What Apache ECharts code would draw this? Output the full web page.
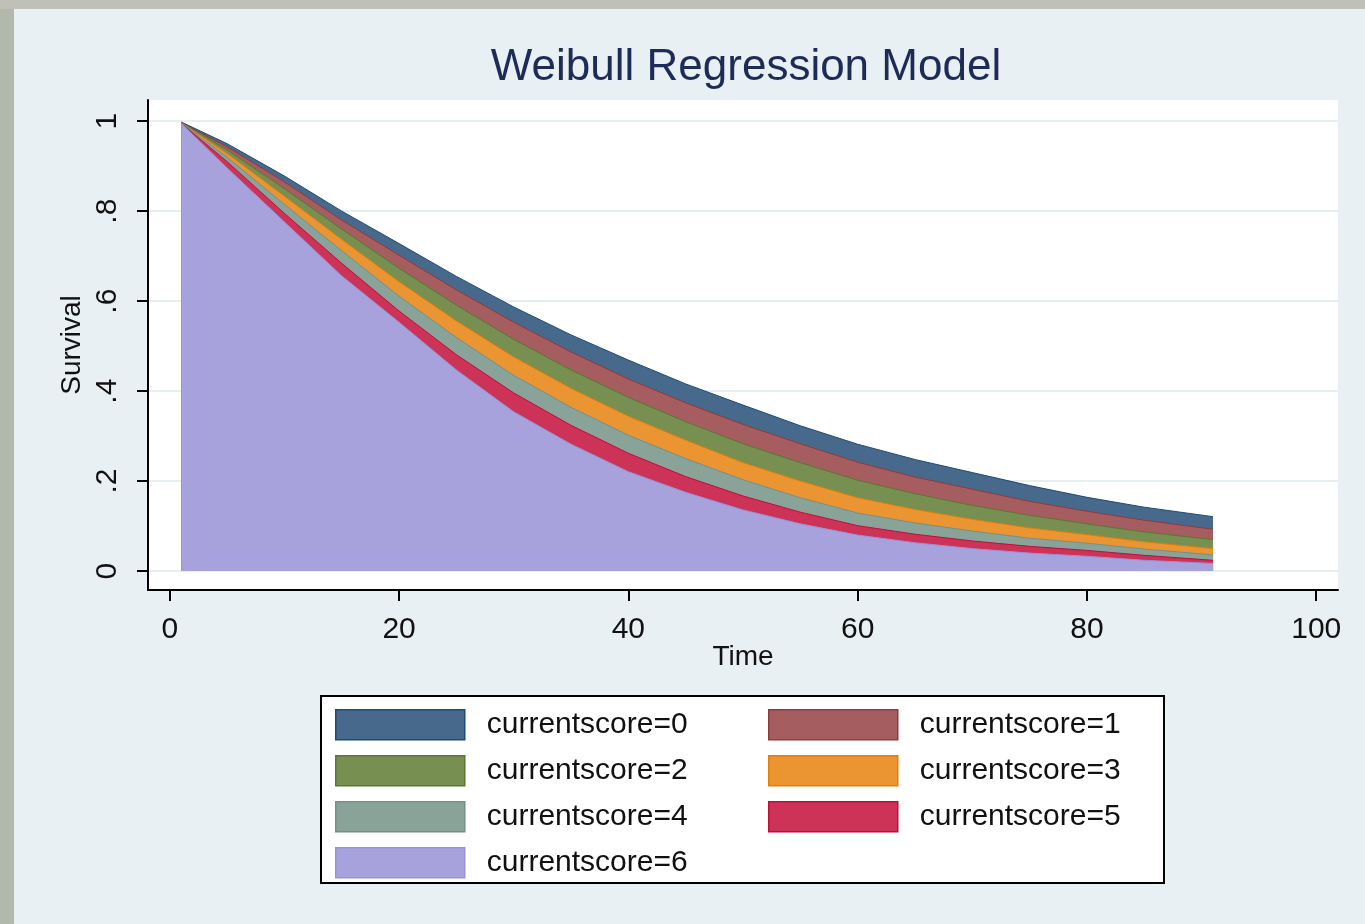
<!DOCTYPE html>
<html>
<head>
<meta charset="utf-8">
<style>
  html, body { margin: 0; padding: 0; background: #e8f0f3; }
  #chart { width: 1365px; height: 924px; }
</style>
<script src="https://cdn.jsdelivr.net/npm/echarts@6/dist/echarts.min.js"></script>
</head>
<body>
<div id="chart"></div>
<script>
// ---- data ----
const times = [1, 5, 10, 15, 20, 25, 30, 35, 40, 45, 50, 55, 60, 65, 70, 75, 80, 85, 91];
const score0 = [0.998, 0.950, 0.878, 0.800, 0.728, 0.655, 0.587, 0.525, 0.469, 0.416, 0.369, 0.323, 0.282, 0.248, 0.219, 0.190, 0.164, 0.142, 0.121];
const score1 = [0.997, 0.943, 0.865, 0.780, 0.702, 0.625, 0.553, 0.487, 0.427, 0.374, 0.326, 0.283, 0.242, 0.209, 0.182, 0.155, 0.133, 0.113, 0.093];
const score2 = [0.997, 0.936, 0.850, 0.760, 0.673, 0.591, 0.515, 0.447, 0.386, 0.332, 0.283, 0.241, 0.202, 0.172, 0.146, 0.124, 0.105, 0.087, 0.070];
const score3 = [0.996, 0.928, 0.833, 0.737, 0.643, 0.556, 0.476, 0.406, 0.344, 0.291, 0.241, 0.200, 0.163, 0.137, 0.115, 0.096, 0.081, 0.065, 0.050];
const score4 = [0.996, 0.920, 0.815, 0.712, 0.611, 0.519, 0.435, 0.364, 0.302, 0.250, 0.203, 0.163, 0.129, 0.107, 0.089, 0.073, 0.062, 0.049, 0.036];
const score5 = [0.995, 0.910, 0.795, 0.684, 0.578, 0.481, 0.396, 0.324, 0.262, 0.210, 0.167, 0.131, 0.101, 0.082, 0.067, 0.055, 0.046, 0.035, 0.024];
const score6 = [0.995, 0.896, 0.776, 0.656, 0.553, 0.447, 0.354, 0.282, 0.221, 0.175, 0.136, 0.105, 0.080, 0.063, 0.050, 0.040, 0.033, 0.024, 0.017];
const seriesNames = ['currentscore=0', 'currentscore=1', 'currentscore=2', 'currentscore=3', 'currentscore=4', 'currentscore=5', 'currentscore=6'];
const seriesValues = [score0, score1, score2, score3, score4, score5, score6];
const xTickValues = [0, 20, 40, 60, 80, 100];
const xTickLabels = ['0', '20', '40', '60', '80', '100'];
const yTickValues = [0, 0.2, 0.4, 0.6, 0.8, 1];
const yTickLabels = ['0', '.2', '.4', '.6', '.8', '1'];

// ---- styles ----
const fills = ['#476a8c', '#a55d5f', '#778f51', '#ea9531', '#8aa399', '#cc3356', '#a7a2dc'];
const strokes = ['#1d4a73', '#8f3a40', '#5b7733', '#e07f0c', '#71908a', '#c10c3a', '#9892d6'];
const FONT = '"Liberation Sans", Arial, Helvetica, sans-serif';

const chart = echarts.init(document.getElementById('chart'), null, { renderer: 'canvas' });

const series = seriesValues.map((vals, i) => ({
  name: seriesNames[i],
  type: 'line',
  data: times.map((t, j) => [t, vals[j]]),
  showSymbol: false,
  symbol: 'none',
  smooth: false,
  lineStyle: { color: strokes[i], width: 1 },
  itemStyle: { color: fills[i] },
  areaStyle: { color: fills[i], opacity: 1 },
  emphasis: { disabled: true },
  z: 2 + i
}));

function legendData(idx) {
  return idx.map(i => ({
    name: seriesNames[i],
    icon: 'rect',
    itemStyle: { color: fills[i], borderColor: strokes[i], borderWidth: 1.5 }
  }));
}

const legendCommon = {
  orient: 'vertical',
  itemWidth: 129,
  itemHeight: 30,
  itemGap: 14.5,
  padding: 0,
  selectedMode: false,
  textStyle: { fontFamily: FONT, fontSize: 30, color: '#111', lineHeight: 30, padding: [0, 0, 0, 17] }
};

const option = {
  backgroundColor: '#e8f0f3',
  animation: false,
  title: {
    text: 'Weibull Regression Model',
    left: 741,
    top: 41,
    textAlign: 'center',
    textStyle: { fontFamily: FONT, fontSize: 44, fontWeight: 'normal', color: '#1c2b57' }
  },
  graphic: [
    { type: 'rect', shape: { x: 0, y: 0, width: 14, height: 924 }, style: { fill: '#b3b8ad' }, z: 100 },
    { type: 'rect', shape: { x: 0, y: 0, width: 1365, height: 9 }, style: { fill: '#bfc1b8' }, z: 100 },
    { type: 'rect', shape: { x: 321, y: 696, width: 843, height: 187 }, style: { fill: '#ffffff', stroke: '#000', lineWidth: 2 }, z: 0 }
  ],
  legend: [
    Object.assign({}, legendCommon, { left: 335, top: 709, data: legendData([0, 2, 4, 6]) }),
    Object.assign({}, legendCommon, { left: 768, top: 709, data: legendData([1, 3, 5]) })
  ],
  grid: {
    left: 148, right: 27, top: 100, bottom: 334,
    show: true, backgroundColor: '#ffffff', borderWidth: 0
  },
  xAxis: {
    type: 'value',
    min: -1.9, max: 101.9,
    name: 'Time',
    nameLocation: 'middle',
    nameGap: 53,
    nameMoveOverlap: false,
    nameTextStyle: { fontFamily: FONT, fontSize: 28, color: '#111' },
    axisLine: { show: true, onZero: false, lineStyle: { color: '#000', width: 2 } },
    axisTick: { show: true, length: 11, lineStyle: { color: '#000', width: 2 }, customValues: xTickValues },
    axisLabel: {
      fontFamily: FONT, fontSize: 30, color: '#111', margin: 25,
      customValues: xTickValues,
      formatter: v => xTickLabels[xTickValues.indexOf(v)] ?? ''
    },
    splitLine: { show: false }
  },
  yAxis: {
    type: 'value',
    min: -0.042, max: 1.047,
    name: 'Survival',
    nameLocation: 'middle',
    nameGap: 62,
    nameMoveOverlap: false,
    nameTextStyle: { fontFamily: FONT, fontSize: 28, color: '#111' },
    axisLine: { show: true, onZero: false, lineStyle: { color: '#000', width: 2 } },
    axisTick: { show: true, length: 11, lineStyle: { color: '#000', width: 2 }, customValues: yTickValues },
    axisLabel: {
      fontFamily: FONT, fontSize: 30, color: '#111', margin: 25, rotate: 90,
      customValues: yTickValues,
      formatter: v => {
        const k = yTickValues.findIndex(t => Math.abs(t - v) < 1e-9);
        return k >= 0 ? yTickLabels[k] : '';
      }
    },
    splitLine: { show: true, lineStyle: { color: '#e6eef1', width: 2 } }
  },
  series: series
};

chart.setOption(option);
</script>
</body>
</html>
